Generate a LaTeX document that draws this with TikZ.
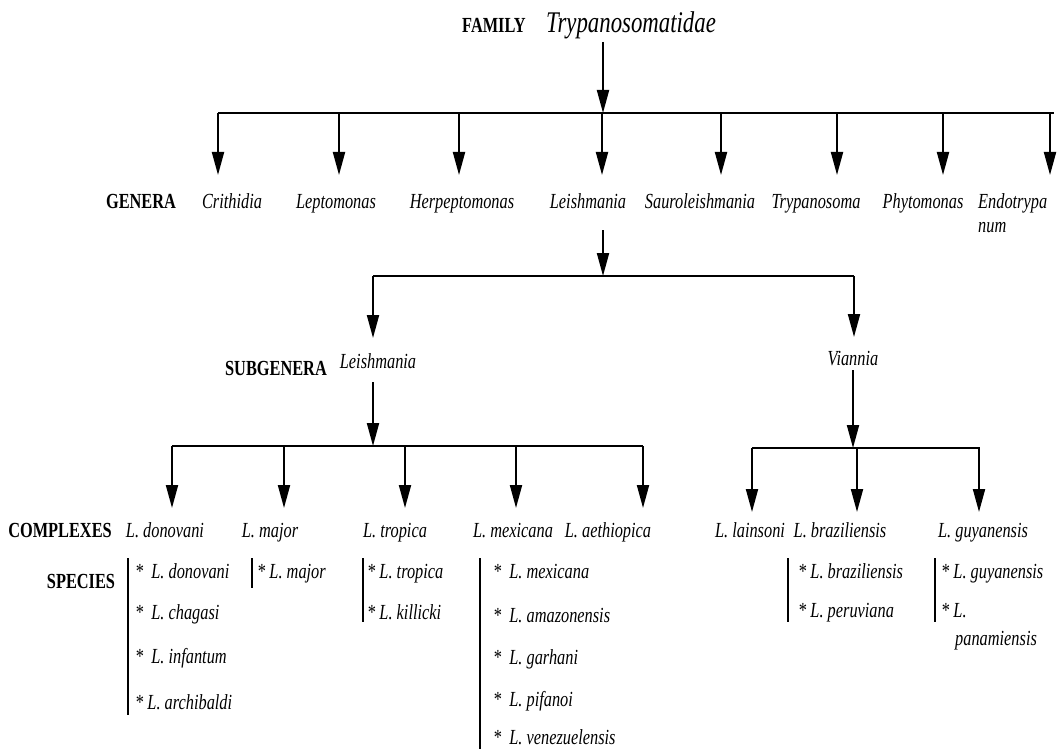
\documentclass[tikz,border=0pt]{standalone}
\usepackage{fontspec}
\setmainfont{Liberation Serif}[FakeStretch=0.76]
\usetikzlibrary{arrows.meta}
\newcommand\labf{\fontsize{21.5}{23}\selectfont\itshape}
\newcommand\hdrf{\fontsize{21.5}{23}\selectfont\bfseries}
\newcommand\famf{\fontsize{30}{32}\selectfont\itshape}
\tikzset{
  lab/.style={font=\labf, inner sep=0pt, anchor=base},
  item/.style={font=\labf, inner sep=0pt, anchor=base west},
  hdr/.style={font=\hdrf, inner sep=0pt, anchor=base},
  arr/.style={line width=2pt, -{Triangle[width=12pt,length=23pt]}},
  bar/.style={line width=2.5pt},
  sbar/.style={line width=2.2pt},
}
\begin{document}
\begin{tikzpicture}[x=1pt,y=-1pt]
\useasboundingbox (0,0) rectangle (1060,749);
% family
\node[hdr] (famh) at (494,33) {FAMILY};
\node[lab,font=\famf] (fam) at (631,33) {Trypanosomatidae};
\coordinate (famout) at (603,42);
\coordinate (b0) at (603,113);
\draw[arr] (famout) -- (b0);
\draw[bar] (218,113) coordinate (j1) -- (1054,113) coordinate (j8);
% genera
\node[hdr] (genh) at (141,208) {GENERA};
\node[lab] (g1) at (232,208) {Crithidia};
\node[lab] (g2) at (336,208) {Leptomonas};
\node[lab] (g3) at (462,208) {Herpeptomonas};
\node[lab] (g4) at (588,208) {Leishmania};
\node[lab] (g5) at (700,208) {Sauroleishmania};
\node[lab] (g6) at (816,208) {Trypanosoma};
\node[lab] (g7) at (923,208) {Phytomonas};
\node[lab,anchor=base west] (g8) at (978,208) {Endotrypa};
\node[lab,anchor=base west] (g8b) at (978,232) {num};
\foreach \x/\n in {218/1,339/2,459/3,602/4,721/5,837/6,943/7,1050/8}{
  \coordinate (gt\n) at (\x,175);
  \draw[arr] (\x,113) -- (gt\n);
}
% subgenera
\coordinate (lgout) at (603,230);
\coordinate (b1) at (603,276);
\draw[arr] (lgout) -- (b1);
\draw[bar] (373,276) coordinate (s1top) -- (854,276) coordinate (s2top);
\coordinate (s1tip) at (373,338);
\coordinate (s2tip) at (854,337);
\draw[arr] (s1top) -- (s1tip);
\draw[arr] (s2top) -- (s2tip);
\node[hdr] (subh) at (276,375) {SUBGENERA};
\node[lab] (sg1) at (378,368) {Leishmania};
\node[lab] (sg2) at (853,365) {Viannia};
% Leishmania complexes
\coordinate (l1out) at (373,382);
\coordinate (b2) at (373,446);
\draw[arr] (l1out) -- (b2);
\draw[bar] (172,446) -- (643,446);
\foreach \x/\n in {172/1,284/2,405/3,516/4,643/5}{
  \coordinate (ct\n) at (\x,508);
  \draw[arr] (\x,446) -- (ct\n);
}
% Viannia complexes
\coordinate (v1out) at (853,370);
\coordinate (b3) at (853,448);
\draw[arr] (v1out) -- (b3);
\draw[bar] (752,448) -- (980,448);
\foreach \x/\n in {752/6,857/7,979/8}{
  \coordinate (ct\n) at (\x,512);
  \draw[arr] (\x,448) -- (ct\n);
}
% complexes
\node[hdr] (comh) at (60,537) {COMPLEXES};
\node[lab] (c1) at (165,537) {L. donovani};
\node[lab] (c2) at (270,537) {L. major};
\node[lab] (c3) at (395,537) {L. tropica};
\node[lab] (c4) at (513,537) {L. mexicana};
\node[lab] (c5) at (608,537) {L. aethiopica};
\node[lab] (c6) at (750,537) {L. lainsoni};
\node[lab] (c7) at (840,537) {L. braziliensis};
\node[lab] (c8) at (983,537) {L. guyanensis};
% species
\node[hdr] (sph) at (81,588) {SPECIES};
\draw[sbar] (128,558) -- (128,715);
\node[item] (sp1) at (135,578) {*\hspace{8pt}L. donovani};
\node[item] (sp2) at (135,619) {*\hspace{8pt}L. chagasi};
\node[item] (sp3) at (135,663) {*\hspace{8pt}L. infantum};
\node[item] (sp4) at (135,709) {* L. archibaldi};
\draw[sbar] (252,558) -- (252,588);
\node[item] (sp5) at (257,578) {* L. major};
\draw[sbar] (363,558) -- (363,622);
\node[item] (sp6) at (367,578) {* L. tropica};
\node[item] (sp7) at (367,619) {* L. killicki};
\draw[sbar] (480,558) -- (480,749);
\node[item] (sp8) at (493,578) {*\hspace{8pt}L. mexicana};
\node[item] (sp9) at (493,622) {*\hspace{8pt}L. amazonensis};
\node[item] (sp10) at (493,664) {*\hspace{8pt}L. garhani};
\node[item] (sp11) at (493,706) {*\hspace{8pt}L. pifanoi};
\node[item] (sp12) at (493,744) {*\hspace{8pt}L. venezuelensis};
\draw[sbar] (788,558) -- (788,622);
\node[item] (sp13) at (798,578) {* L. braziliensis};
\node[item] (sp14) at (798,617) {* L. peruviana};
\draw[sbar] (935,558) -- (935,622);
\node[item] (sp15) at (941,578) {* L. guyanensis};
\node[item] (sp16) at (941,617) {* L.};
\node[item] (sp17) at (955,645) {panamiensis};
\end{tikzpicture}
\end{document}
